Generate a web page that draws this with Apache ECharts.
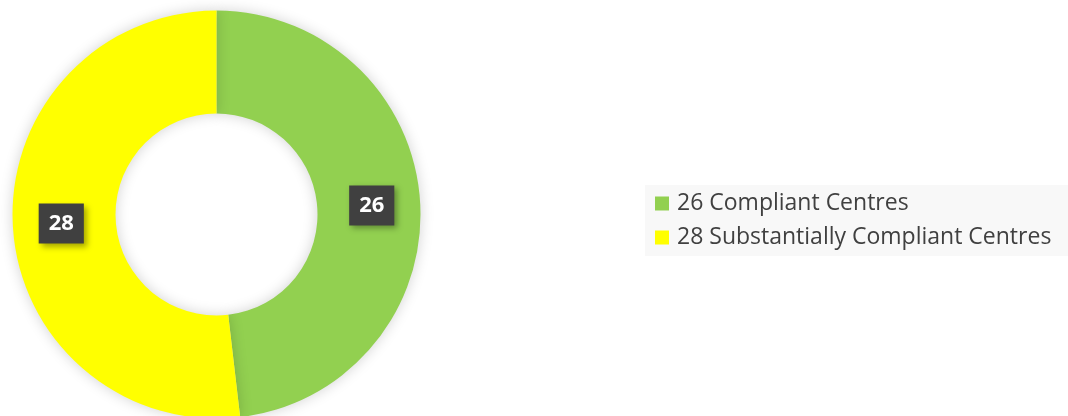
<!DOCTYPE html>
<html>
<head>
<meta charset="utf-8">
<script src="https://cdn.jsdelivr.net/npm/echarts@6/dist/echarts.min.js"></script>
<style>html,body{margin:0;padding:0;background:#fff;}#c{width:1068px;height:416px;}</style>
</head>
<body>
<div id="c"></div>
<script>
const categories = ["Compliant Centres", "Substantially Compliant Centres"];
const values = [26, 28];
const colors = ["#92d050", "#ffff00"];

const chart = echarts.init(document.getElementById('c'));
const data = categories.map((n, i) => ({ name: n, value: values[i], itemStyle: { color: colors[i] } }));
chart.setOption({
  animation: false,
  backgroundColor: '#ffffff',
  graphic: [{
    type: 'rect', left: 645, top: 185, shape: { width: 423, height: 71 },
    style: { fill: '#f8f8f8' }, z: 0
  }],
  legend: {
    orient: 'vertical', left: 650, top: 187,
    itemWidth: 14, itemHeight: 14, itemGap: 11, icon: 'rect',
    formatter: function (name) { return values[categories.indexOf(name)] + ' ' + name; },
    textStyle: { fontFamily: 'Open Sans', fontSize: 23, lineHeight: 23, color: '#404040', padding: [0, 0, 0, 3] }
  },
  series: [{
    type: 'pie',
    center: [216.5, 214.5],
    radius: [101, 204],
    startAngle: 90,
    clockwise: true,
    data: data,
    itemStyle: { shadowBlur: 14, shadowColor: 'rgba(0,0,0,0.18)' },
    label: {
      show: true, position: 'inside',
      formatter: '{c}',
      fontFamily: 'Open Sans', fontWeight: 'bold', fontSize: 22, color: '#ffffff',
      backgroundColor: '#404040', padding: [10, 10, 8, 10],
      shadowBlur: 6, shadowOffsetX: 3, shadowOffsetY: 3, shadowColor: 'rgba(0,0,0,0.35)'
    },
    labelLine: { show: false },
    emphasis: { disabled: true }
  }]
});
</script>
</body>
</html>
